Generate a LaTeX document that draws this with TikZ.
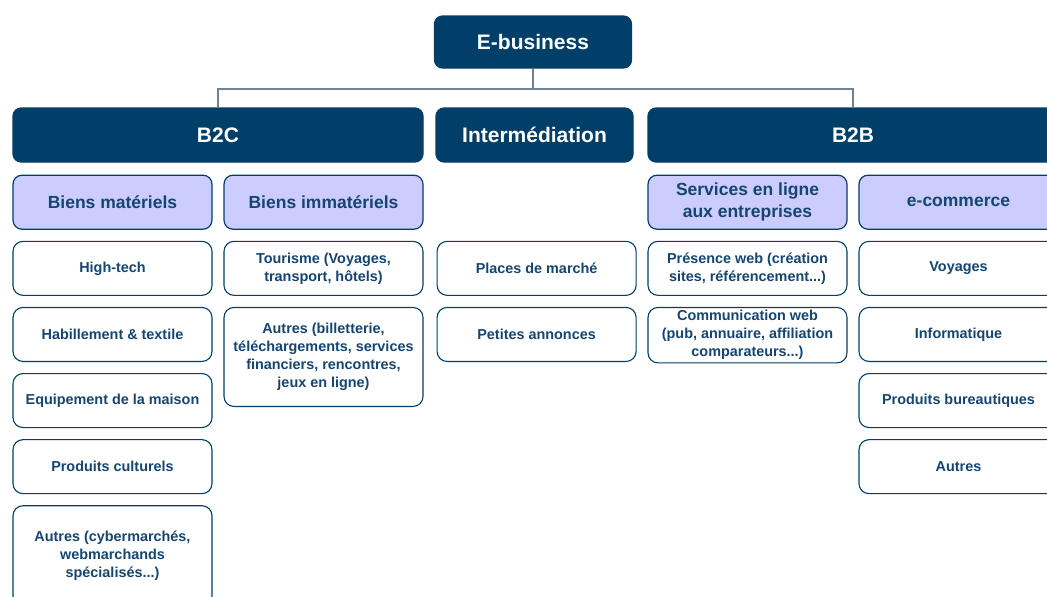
\documentclass[tikz,border=0pt]{standalone}
\usepackage{fontspec}
\setmainfont{Liberation Sans}
\usepackage{tikz}
\usetikzlibrary{positioning}

\definecolor{navy}{HTML}{013F68}
\definecolor{inkblue}{HTML}{154570}
\definecolor{lavender}{HTML}{CCCCFF}
\definecolor{linkgrey}{HTML}{6D8298}

\tikzset{
    head/.style={draw=navy, fill=navy, text=white, rounded corners=8pt,
        line width=1.2pt, minimum height=54pt, inner sep=3pt,
        font=\bfseries\fontsize{21}{25}\selectfont},
    cat/.style={draw=navy, fill=lavender, text=inkblue, rounded corners=9pt,
        line width=1.2pt, minimum width=199pt, minimum height=54pt, inner sep=3pt,
        align=center, font=\bfseries\fontsize{17.5}{21.5}\selectfont},
    item/.style={draw=navy, fill=white, text=inkblue, rounded corners=10pt,
        line width=1.1pt, minimum width=199pt, minimum height=54pt, inner sep=3pt,
        align=center, font=\bfseries\fontsize{14.4}{18}\selectfont},
    link/.style={draw=linkgrey, line width=1.5pt},
}

\begin{document}
\begin{tikzpicture}[x=1pt, y=-1pt, node distance=11pt]
    \useasboundingbox (0,0) rectangle (1047,597);

    % top levels
    \node[head, minimum width=197pt, minimum height=52pt] (ebiz) at (533,42) {E-business};
    \node[head, minimum width=410pt] (b2c) at (218,135) {B2C};
    \node[head, minimum width=197pt] (inter) at (534.5,135) {Intermédiation};
    \node[head, minimum width=410pt] (b2b) at (853,135) {B2B};

    \coordinate (fork) at (533,89);
    \draw[link] (ebiz.south) -- (fork);
    \draw[link] (fork) -| (b2c.north);
    \draw[link] (fork) -| (b2b.north);

    % B2C
    \node[cat, below right=12pt and 0pt of b2c.south west] (mat) {Biens matériels};
    \node[cat, below left=12pt and 0pt of b2c.south east] (immat) {Biens immatériels};

    \node[item, below=of mat] (hitech) {High-tech};
    \node[item, below=of hitech] (habil) {Habillement \& textile};
    \node[item, below=of habil] (equip) {Equipement de la maison};
    \node[item, below=of equip] (cult) {Produits culturels};
    \node[item, below=of cult, minimum height=100pt] (autmat)
        {Autres (cybermarchés,\\ webmarchands\\ spécialisés...)};

    \node[item, below=of immat] (tour) {Tourisme (Voyages,\\ transport, hôtels)};
    \node[item, below=of tour, minimum height=99pt] (autimmat)
        {Autres (billetterie,\\ téléchargements, services\\ financiers, rencontres,\\ jeux en ligne)};

    % intermediation
    \node[item, right=13pt of tour] (places) {Places de marché};
    \node[item, below=of places] (annonces) {Petites annonces};

    % B2B
    \node[cat, below right=12pt and 0pt of b2b.south west] (serv) {Services en ligne\\ aux entreprises};
    \node[cat, below left=12pt and 0pt of b2b.south east] (ecom) {e-commerce};

    \node[item, below=of serv] (presence) {Présence web (création\\ sites, référencement...)};
    \node[item, below=of presence] (comm) {Communication web\\ (pub, annuaire, affiliation\\ comparateurs...)};

    \node[item, below=of ecom] (voyages) {Voyages};
    \node[item, below=of voyages] (info) {Informatique};
    \node[item, below=of info] (bureau) {Produits bureautiques};
    \node[item, below=of bureau] (autb2b) {Autres};
\end{tikzpicture}
\end{document}
